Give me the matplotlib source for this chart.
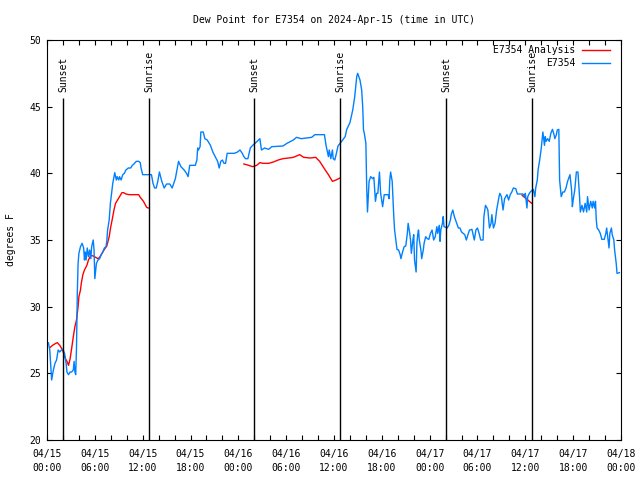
import numpy as np
import matplotlib
matplotlib.use("Agg")
import matplotlib.pyplot as plt

# Hours since 2024-04-15 00:00 UTC
STATION_HOURS = [
    0.0, 0.17, 0.35, 0.58, 0.8, 1.0, 1.2, 1.4, 1.6, 1.8, 2.0, 2.2, 2.4, 2.5, 2.7,
    2.9, 3.1, 3.3, 3.4, 3.5, 3.6, 3.7, 3.8, 3.9, 4.0, 4.2, 4.4, 4.6, 4.7, 4.8,
    4.9, 5.05, 5.2, 5.35, 5.5, 5.6, 5.8, 5.9, 6.0, 6.2, 6.4, 6.6, 6.8, 7.0, 7.2,
    7.4, 7.5, 7.6, 7.8, 7.95, 8.1, 8.25, 8.4, 8.5, 8.7, 8.8, 9.0, 9.1, 9.3, 9.5,
    9.7, 9.9, 10.2, 10.5, 10.7, 10.9, 11.2, 11.5, 11.7, 11.8, 12.0, 12.3, 12.8,
    13.1, 13.3, 13.5, 13.7, 13.9, 14.1, 14.4, 14.7, 15.0, 15.4, 15.7, 16.1, 16.5,
    16.8, 17.2, 17.5, 17.7, 17.9, 18.6, 18.8, 18.9, 19.0, 19.2, 19.3, 19.6, 19.8,
    20.1, 20.5, 20.8, 21.1, 21.4, 21.6, 21.8, 22.0, 22.2, 22.4, 22.6, 23.5, 23.9,
    24.2, 24.5, 24.7, 24.9, 25.2, 25.5, 25.8, 26.1, 26.7, 26.9, 27.3, 27.8, 28.2,
    29.6, 30.1, 30.9, 31.3, 31.9, 33.2, 33.6, 34.8, 35.0, 35.3, 35.4, 35.6, 35.8,
    35.9, 36.1, 36.3, 36.5, 36.96, 37.4, 37.6, 38.0, 38.35, 38.6, 38.85, 38.97,
    39.26, 39.47, 39.6, 39.7, 39.8, 40.0, 40.1, 40.2, 40.4, 40.6, 40.85, 41.0,
    41.2, 41.35, 41.5, 41.7, 41.85, 42.1, 42.3, 42.4, 42.8, 42.9, 43.0, 43.1,
    43.3, 43.4, 43.5, 43.6, 43.8, 43.9, 44.1, 44.3, 44.4, 44.6, 44.8, 45.0, 45.2,
    45.3, 45.5, 45.6, 45.7, 45.9, 46.0, 46.1, 46.3, 46.4, 46.5, 46.6, 46.7, 46.9,
    47.0, 47.2, 47.3, 47.5, 47.7, 47.9, 48.1, 48.3, 48.5, 48.7, 48.9, 49.0, 49.2,
    49.3, 49.4, 49.6, 49.7, 49.8, 50.2, 50.4, 50.6, 50.7, 50.9, 51.1, 51.3, 51.6,
    51.8, 52.0, 52.2, 52.4, 52.6, 52.8, 53.0, 53.3, 53.6, 53.8, 54.0, 54.2, 54.4,
    54.7, 54.8, 55.0, 55.2, 55.3, 55.5, 55.7, 55.8, 56.0, 56.2, 56.4, 56.7, 56.8,
    57.0, 57.2, 57.4, 57.7, 57.9, 58.1, 58.3, 58.5, 58.8, 59.0, 59.3, 59.7, 59.9,
    60.0, 60.2, 60.3, 60.5, 60.7, 61.0, 61.2, 61.3, 61.5, 61.6, 61.8, 62.0, 62.1,
    62.2, 62.4, 62.5, 62.6, 62.8, 63.0, 63.2, 63.4, 63.6, 63.7, 63.9, 64.0, 64.2,
    64.3, 64.5, 64.7, 64.9, 65.1, 65.3, 65.5, 65.6, 65.8, 65.9, 66.0, 66.2, 66.4,
    66.6, 66.8, 66.9, 67.1, 67.3, 67.5, 67.7, 67.8, 68.0, 68.2, 68.4, 68.5, 68.7,
    68.8, 68.9, 69.0, 69.2, 69.4, 69.6, 69.9, 70.1, 70.2, 70.4, 70.5, 70.6, 70.8,
    70.9, 71.1, 71.2, 71.4, 71.5, 71.8,
]
STATION_DEWPT = [
    27.3, 27.3, 26.75, 24.5, 25.25, 25.75, 26.0, 26.75, 26.6, 26.75, 26.8, 26.5,
    25.75, 25.1, 24.9, 25.1, 25.1, 25.25, 25.9, 25.1, 24.9, 26.9, 31.0, 33.25,
    34.0, 34.5, 34.75, 34.4, 33.5, 34.1, 33.5, 34.4, 33.75, 34.25, 33.6, 34.5,
    35.0, 34.25, 32.1, 33.25, 33.5, 33.6, 33.9, 34.1, 34.4, 34.5, 34.9, 35.75,
    36.5, 37.75, 38.5, 39.25, 39.75, 40.05, 39.5, 39.75, 39.5, 39.75, 39.5, 39.9,
    40.0, 40.25, 40.4, 40.4, 40.6, 40.7, 40.9, 40.9, 40.8, 40.4, 39.9, 39.9, 39.9,
    39.9, 39.25, 38.9, 38.9, 39.4, 40.1, 39.4, 38.9, 39.2, 39.2, 38.9, 39.6, 40.9,
    40.5, 40.25, 40.0, 39.75, 40.6, 40.6, 41.0, 41.9, 41.75, 42.0, 43.1, 43.1,
    42.6, 42.5, 42.1, 41.6, 41.25, 40.9, 40.4, 40.9, 41.0, 40.75, 40.75, 41.5,
    41.5, 41.6, 41.75, 41.5, 41.25, 41.1, 41.1, 41.9, 42.1, 42.25, 42.6, 41.75,
    41.9, 41.8, 42.0, 42.05, 42.25, 42.5, 42.7, 42.6, 42.7, 42.9, 42.9, 42.1,
    41.25, 41.75, 41.1, 41.75, 41.1, 41.0, 41.5, 42.05, 42.4, 42.75, 43.3, 43.8,
    44.75, 45.75, 47.25, 47.5, 47.0, 46.25, 45.0, 43.25, 43.0, 42.25, 39.0, 37.1,
    39.4, 39.75, 39.6, 39.7, 37.9, 38.5, 38.5, 40.1, 38.5, 37.5, 38.4, 38.4, 38.4,
    38.1, 39.5, 40.1, 39.4, 38.0, 36.75, 35.75, 34.75, 34.3, 34.25, 33.9, 33.6,
    34.1, 34.5, 34.55, 35.5, 36.25, 35.5, 35.0, 34.0, 35.0, 35.4, 33.5, 32.6,
    34.75, 35.4, 35.75, 35.0, 34.25, 33.6, 34.25, 34.75, 35.25, 35.1, 35.05, 35.5,
    35.75, 35.0, 35.25, 36.0, 35.5, 36.1, 34.9, 35.75, 36.25, 36.75, 36.0, 35.9,
    36.1, 36.5, 36.9, 37.25, 36.75, 36.4, 35.9, 35.9, 35.6, 35.5, 35.4, 35.0,
    35.4, 35.75, 35.8, 35.0, 35.75, 35.9, 35.5, 35.0, 35.0, 36.75, 37.6, 37.4,
    37.25, 35.9, 36.25, 36.9, 35.9, 36.25, 37.25, 38.25, 38.5, 38.25, 37.25, 38.1,
    38.4, 38.0, 38.4, 38.6, 38.9, 38.85, 38.45, 38.45, 38.45, 38.25, 38.5, 37.4,
    38.25, 38.5, 38.65, 38.8, 38.25, 38.9, 39.5, 40.25, 41.0, 41.9, 42.5, 43.1,
    42.1, 42.75, 42.4, 42.6, 42.4, 43.0, 43.3, 42.9, 42.6, 42.9, 43.25, 43.3,
    39.5, 38.25, 38.6, 38.6, 38.9, 39.4, 39.75, 39.9, 38.75, 37.5, 38.0, 38.75,
    40.1, 40.1, 38.25, 37.1, 37.6, 37.1, 37.75, 37.1, 38.25, 37.25, 37.9, 37.4,
    37.9, 37.4, 37.9, 36.5, 35.9, 35.75, 35.5, 35.05, 35.05, 35.5, 35.9, 34.9,
    34.4, 35.5, 35.9, 35.4, 35.0, 34.25, 33.25, 32.5, 32.55,
]

# Analysis series, NaN marks the gaps
ANALYSIS_HOURS = [
    0.4, 0.7, 1.1, 1.3, 1.6, 1.9, 2.1, 2.3, 2.5, 2.7, 2.9, 3.1, 3.3, 3.5, 3.7,
    3.9, 4.0, 4.2, 4.3, 4.5, 4.7, 5.0, 5.2, 5.5, 5.8, 6.1, 6.4, 6.6, 6.9, 7.2,
    7.5, 7.8, 8.0, 8.2, 8.4, 8.6, 8.9, 9.1, 9.4, 9.6, 9.9, 10.3, 10.8, 11.5,
    11.7, 12.1, 12.5, 12.7,
    18.0,
    24.7, 25.3, 25.8, 26.3, 26.7, 27.1, 27.8, 28.4, 29.0, 29.6, 30.3, 30.9,
    31.7, 32.2, 33.0, 33.7, 34.2, 34.9, 35.3, 35.8, 36.25, 36.75,
    48.0,
    59.6, 60.2, 60.8,
]
ANALYSIS_DEWPT = [
    26.95, 27.1, 27.25, 27.3, 27.1, 26.8, 26.5, 26.1, 25.9, 25.6, 26.1, 26.9,
    27.75, 28.5, 29.0, 30.0, 30.75, 31.25, 31.75, 32.4, 32.75, 33.1, 33.5, 33.85,
    33.8, 33.7, 33.6, 33.7, 34.0, 34.3, 34.55, 35.25, 36.0, 36.6, 37.25, 37.75,
    38.05, 38.25, 38.55, 38.55, 38.45, 38.4, 38.4, 38.4, 38.2, 37.9, 37.45, 37.4,
    np.nan,
    40.7, 40.6, 40.5, 40.6, 40.8, 40.75, 40.75, 40.85, 41.0, 41.1, 41.15, 41.2,
    41.4, 41.2, 41.15, 41.2, 40.9, 40.25, 39.9, 39.4, 39.5, 39.65,
    np.nan,
    38.35, 38.05, 37.75,
]

SUN_HOURS = [2.0, 12.83, 26.0, 36.78, 50.07, 60.87]
SUN_LABELS = ["Sunset", "Sunrise", "Sunset", "Sunrise", "Sunset", "Sunrise"]

TICK_HOURS = list(range(0, 73, 6))
TICK_LABELS = [
    "04/15\n00:00", "04/15\n06:00", "04/15\n12:00", "04/15\n18:00",
    "04/16\n00:00", "04/16\n06:00", "04/16\n12:00", "04/16\n18:00",
    "04/17\n00:00", "04/17\n06:00", "04/17\n12:00", "04/17\n18:00",
    "04/18\n00:00",
]

plt.rcParams["font.family"] = ["DejaVu Sans Mono"]
plt.rcParams["font.size"] = 7

fig = plt.figure(figsize=(6.4, 4.8), dpi=100)
ax = fig.add_axes([47 / 640, 40 / 480, 574 / 640, 400 / 480])

ax.plot(ANALYSIS_HOURS, ANALYSIS_DEWPT, color="#ff0000", lw=1.0,
        label="E7354 Analysis")
ax.plot(STATION_HOURS, STATION_DEWPT, color="#0080ff", lw=1.0, label="E7354")

for h, name in zip(SUN_HOURS, SUN_LABELS):
    ax.vlines(h, 20, 45.65, color="black", lw=1.0)
    ax.text(h, 46.1, name, rotation=90, ha="center", va="bottom")

ax.set_xlim(0, 72)
ax.set_ylim(20, 50)
ax.set_xticks(TICK_HOURS)
ax.set_xticklabels(TICK_LABELS, linespacing=1.45)
ax.set_xticks(range(0, 73, 2), minor=True)
ax.set_yticks(range(20, 51, 5))
ax.tick_params(which="both", direction="in", length=3.3, width=0.8,
               top=True, right=True)
ax.tick_params(axis="x", pad=6.5)
ax.tick_params(axis="y", pad=4.3)
for s in ax.spines.values():
    s.set_linewidth(0.8)

ax.set_ylabel("degrees F")
ax.yaxis.set_label_coords(-0.054, 0.5)
ax.set_title("Dew Point for E7354 on 2024-Apr-15 (time in UTC)", fontsize=7,
             pad=12)

ax.legend(loc="upper right", bbox_to_anchor=(0.981, 0.9875), frameon=False,
          markerfirst=False, borderpad=0, borderaxespad=0, handlelength=2.9,
          handletextpad=0.7, labelspacing=0.3)

fig.savefig("out.png", dpi=100)
